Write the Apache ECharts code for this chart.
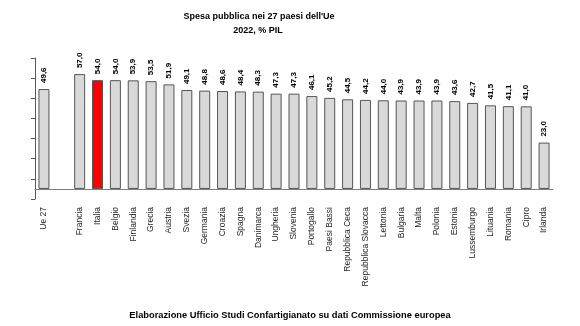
<!DOCTYPE html>
<html>
<head>
<meta charset="utf-8">
<script src="https://cdn.jsdelivr.net/npm/echarts@6/dist/echarts.min.js"></script>
<style>
html,body{margin:0;padding:0;background:#fff;}
#c{width:580px;height:326px;}
</style>
</head>
<body>
<div id="c"></div>
<script>
var categories = ['Ue 27', '', 'Francia', 'Italia', 'Belgio', 'Finlandia', 'Grecia', 'Austria', 'Svezia', 'Germania', 'Croazia', 'Spagna', 'Danimarca', 'Ungheria', 'Slovenia', 'Portogallo', 'Paesi Bassi', 'Repubblica Ceca', 'Repubblica Slovacca', 'Lettonia', 'Bulgaria', 'Malta', 'Polonia', 'Estonia', 'Lussemburgo', 'Lituania', 'Romania', 'Cipro', 'Irlanda'];
var values = [49.6, null, 57.0, 54.0, 54.0, 53.9, 53.5, 51.9, 49.1, 48.8, 48.6, 48.4, 48.3, 47.3, 47.3, 46.1, 45.2, 44.5, 44.2, 44.0, 43.9, 43.9, 43.9, 43.6, 42.7, 41.5, 41.1, 41.0, 23.0];
var highlight = 'Italia';
var yTicks = [-5, 5, 15, 25, 35, 45, 55, 65];
var titleLine1 = "Spesa pubblica nei 27 paesi dell'Ue";
var titleLine2 = '2022, % PIL';
var caption = 'Elaborazione Ufficio Studi Confartigianato su dati Commissione europea';

var FONT = "'Liberation Sans', Arial, sans-serif";
var data = values.map(function (v, i) {
  if (v === null) return '-';
  return {
    value: v,
    itemStyle: categories[i] === highlight ? { color: '#ff0000' } : undefined
  };
});

var chart = echarts.init(document.getElementById('c'), null, { renderer: 'canvas' });
chart.setOption({
  animation: false,
  backgroundColor: '#ffffff',
  grid: { left: 35, right: 27, top: 58, bottom: 127, containLabel: false },
  graphic: [
    { type: 'text', x: 259, y: 16.5, style: { text: titleLine1, font: 'bold 9px ' + FONT, fill: '#000', textAlign: 'center', textVerticalAlign: 'middle' } },
    { type: 'text', x: 258, y: 31, style: { text: titleLine2, font: 'bold 9px ' + FONT, fill: '#000', textAlign: 'center', textVerticalAlign: 'middle' } },
    { type: 'text', x: 290, y: 315.5, style: { text: caption, font: 'bold 9.3px ' + FONT, fill: '#000', textAlign: 'center', textVerticalAlign: 'middle' } }
  ],
  xAxis: {
    type: 'category',
    data: categories,
    boundaryGap: true,
    axisLine: { show: true, onZero: true, lineStyle: { color: '#7f7f7f', width: 1 } },
    axisTick: { show: false },
    axisLabel: { interval: 0, rotate: 90, margin: 8, fontSize: 8.5, fontFamily: FONT, color: '#262626' },
    splitLine: { show: false }
  },
  yAxis: {
    type: 'value',
    min: -5,
    max: 65,
    axisLine: { show: true, lineStyle: { color: '#595959', width: 1 } },
    axisTick: { show: true, length: 4, customValues: yTicks, lineStyle: { color: '#595959' } },
    axisLabel: { show: false },
    splitLine: { show: false }
  },
  series: [{
    type: 'bar',
    data: data,
    barWidth: 11,
    itemStyle: { color: '#d9d9d9', borderColor: '#555555', borderWidth: 1 },
    label: {
      show: true,
      position: 'top',
      rotate: 90,
      align: 'left',
      verticalAlign: 'middle',
      distance: 6,
      fontSize: 8,
      fontWeight: 'bold',
      fontFamily: FONT,
      color: '#000',
      formatter: function (p) { return p.value == null ? '' : p.value.toFixed(1).replace('.', ','); }
    }
  }]
});
</script>
</body>
</html>
